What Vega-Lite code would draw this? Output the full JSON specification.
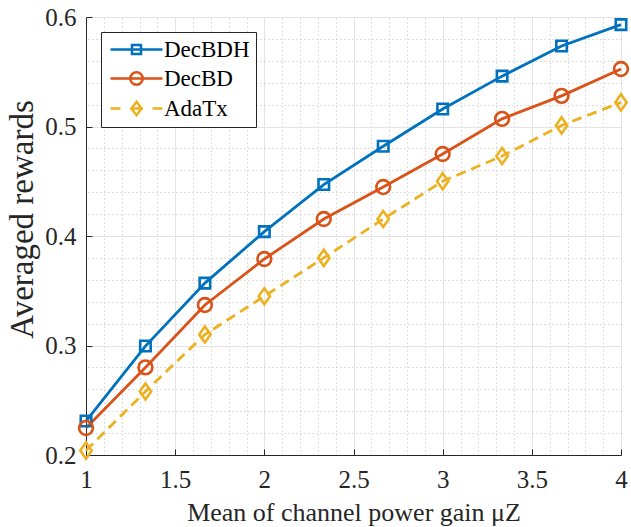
{
  "$schema": "https://vega.github.io/schema/vega-lite/v6.json",
  "width": 535,
  "height": 438,
  "autosize": {"type": "none"},
  "padding": {"left": 86, "top": 17, "right": 10, "bottom": 72},
  "background": "white",
  "config": {
    "view": {"stroke": null},
    "font": "Liberation Serif",
    "axis": {"labelFont": "Liberation Serif", "titleFont": "Liberation Serif", "labelColor": "#262626", "titleColor": "#262626", "titleFontWeight": "normal"}
  },
  "data": {
    "values": [
      {"x": 1, "v": 0.231, "s": "DecBDH"},
      {"x": 1.3333, "v": 0.2995, "s": "DecBDH"},
      {"x": 1.6667, "v": 0.357, "s": "DecBDH"},
      {"x": 2, "v": 0.404, "s": "DecBDH"},
      {"x": 2.3333, "v": 0.447, "s": "DecBDH"},
      {"x": 2.6667, "v": 0.482, "s": "DecBDH"},
      {"x": 3, "v": 0.516, "s": "DecBDH"},
      {"x": 3.3333, "v": 0.546, "s": "DecBDH"},
      {"x": 3.6667, "v": 0.5735, "s": "DecBDH"},
      {"x": 4, "v": 0.593, "s": "DecBDH"},
      {"x": 1, "v": 0.2247, "s": "DecBD"},
      {"x": 1.3333, "v": 0.280, "s": "DecBD"},
      {"x": 1.6667, "v": 0.337, "s": "DecBD"},
      {"x": 2, "v": 0.379, "s": "DecBD"},
      {"x": 2.3333, "v": 0.4155, "s": "DecBD"},
      {"x": 2.6667, "v": 0.4447, "s": "DecBD"},
      {"x": 3, "v": 0.4749, "s": "DecBD"},
      {"x": 3.3333, "v": 0.507, "s": "DecBD"},
      {"x": 3.6667, "v": 0.528, "s": "DecBD"},
      {"x": 4, "v": 0.5525, "s": "DecBD"},
      {"x": 1, "v": 0.204, "s": "AdaTx"},
      {"x": 1.3333, "v": 0.258, "s": "AdaTx"},
      {"x": 1.6667, "v": 0.310, "s": "AdaTx"},
      {"x": 2, "v": 0.345, "s": "AdaTx"},
      {"x": 2.3333, "v": 0.380, "s": "AdaTx"},
      {"x": 2.6667, "v": 0.4155, "s": "AdaTx"},
      {"x": 3, "v": 0.450, "s": "AdaTx"},
      {"x": 3.3333, "v": 0.473, "s": "AdaTx"},
      {"x": 3.6667, "v": 0.501, "s": "AdaTx"},
      {"x": 4, "v": 0.522, "s": "AdaTx"}
    ]
  },
  "resolve": {"axis": {"x": "independent", "y": "independent"}},
  "layer": [
    {
      "transform": [{"filter": "datum.s !== 'AdaTx'"}],
      "mark": {"type": "line", "strokeWidth": 2.8},
      "encoding": {
        "x": {"field": "x", "type": "quantitative", "scale": {"domain": [1, 4], "nice": false, "zero": false},
          "axis": {"orient": "bottom", "values": [1, 1.5, 2, 2.5, 3, 3.5, 4], "format": "~g", "grid": true, "gridColor": "#e3e3e3", "gridWidth": 1, "domainColor": "#262626", "domainWidth": 1, "tickColor": "#262626", "tickSize": -6, "labelPadding": 18, "labelFontSize": 25, "labelFlush": false,
            "title": "Mean of channel power gain μZ", "titleFontSize": 26, "titleBaseline": "alphabetic", "titleY": 65}},
        "y": {"field": "v", "type": "quantitative", "scale": {"domain": [0.2, 0.6], "nice": false, "zero": false},
          "axis": {"orient": "left", "values": [0.2, 0.3, 0.4, 0.5, 0.6], "format": ".1f", "grid": true, "gridColor": "#e3e3e3", "gridWidth": 1, "domainColor": "#262626", "domainWidth": 1, "tickColor": "#262626", "tickSize": -6, "labelPadding": 16, "labelFontSize": 25, "labelFlush": false,
            "title": "Averaged rewards", "titleFontSize": 33, "titleBaseline": "alphabetic", "titleAngle": -90, "titleX": -54, "titleY": 202, "titleAlign": "center"}},
        "color": {"field": "s", "type": "nominal", "scale": {"domain": ["DecBDH", "DecBD", "AdaTx"], "range": ["#0072BD", "#D95319", "#EDB120"]},
          "legend": {"orient": "none", "legendX": 15, "legendY": 15, "title": null, "fillColor": "white", "strokeColor": "#262626", "padding": 6, "rowPadding": 5,
            "labelFont": "Liberation Serif", "labelFontSize": 23, "labelColor": "#000000", "labelOffset": 16, "symbolOffset": 18, "symbolSize": 100, "symbolStrokeWidth": 2.5,
            "encode": {"symbols": {"update": {
              "shape": {"signal": "datum.value === 'DecBDH' ? 'M-5.2,0H5.2M-0.9,-0.9H0.9V0.9H-0.9Z' : datum.value === 'DecBD' ? 'M-5.2,0H5.2M-1.25,0A1.25,1.25,0,1,0,1.25,0A1.25,1.25,0,1,0,-1.25,0Z' : 'M-5.2,0H-3.2M-1.3,0H1.3M3.2,0H5.2M0,-1.35L1,0L0,1.35L-1,0Z'"},
              "fill": {"value": "transparent"}, "strokeWidth": {"value": 2.5}, "opacity": {"value": 1}, "size": {"value": 100}}}}}}
      }
    },
    {
      "transform": [{"filter": "datum.s === 'AdaTx'"}],
      "mark": {"type": "line", "strokeWidth": 2.8, "strokeDash": [10, 6]},
      "encoding": {
        "x": {"field": "x", "type": "quantitative", "axis": null},
        "y": {"field": "v", "type": "quantitative", "axis": null},
        "color": {"field": "s", "type": "nominal", "legend": null}
      }
    },
    {
      "transform": [{"filter": "datum.s === 'DecBDH'"}],
      "mark": {"type": "point", "shape": "square", "size": 110, "filled": false, "strokeWidth": 2.6, "opacity": 1},
      "encoding": {
        "x": {"field": "x", "type": "quantitative",
          "axis": {"orient": "top", "values": [1.1, 1.2, 1.3, 1.4, 1.6, 1.7, 1.8, 1.9, 2.1, 2.2, 2.3, 2.4, 2.6, 2.7, 2.8, 2.9, 3.1, 3.2, 3.3, 3.4, 3.6, 3.7, 3.8, 3.9], "grid": true, "gridColor": "#bdbdbd", "gridDash": [1, 3], "gridWidth": 1, "labels": false, "ticks": false, "domain": false, "title": null}},
        "y": {"field": "v", "type": "quantitative",
          "axis": {"orient": "right", "values": [0.22, 0.24, 0.26, 0.28, 0.32, 0.34, 0.36, 0.38, 0.42, 0.44, 0.46, 0.48, 0.52, 0.54, 0.56, 0.58], "grid": true, "gridColor": "#bdbdbd", "gridDash": [1, 3], "gridWidth": 1, "labels": false, "ticks": false, "domain": false, "title": null}},
        "color": {"field": "s", "type": "nominal", "legend": null}
      }
    },
    {
      "transform": [{"filter": "datum.s === 'DecBD'"}],
      "mark": {"type": "point", "shape": "circle", "size": 190, "filled": false, "strokeWidth": 2.6, "opacity": 1},
      "encoding": {
        "x": {"field": "x", "type": "quantitative", "axis": null},
        "y": {"field": "v", "type": "quantitative", "axis": null},
        "color": {"field": "s", "type": "nominal", "legend": null}
      }
    },
    {
      "transform": [{"filter": "datum.s === 'AdaTx'"}],
      "mark": {"type": "point", "shape": "M0,-1.2L0.85,0L0,1.2L-0.85,0Z", "size": 180, "filled": false, "strokeWidth": 2.6, "opacity": 1},
      "encoding": {
        "x": {"field": "x", "type": "quantitative", "axis": null},
        "y": {"field": "v", "type": "quantitative", "axis": null},
        "color": {"field": "s", "type": "nominal", "legend": null}
      }
    }
  ]
}
